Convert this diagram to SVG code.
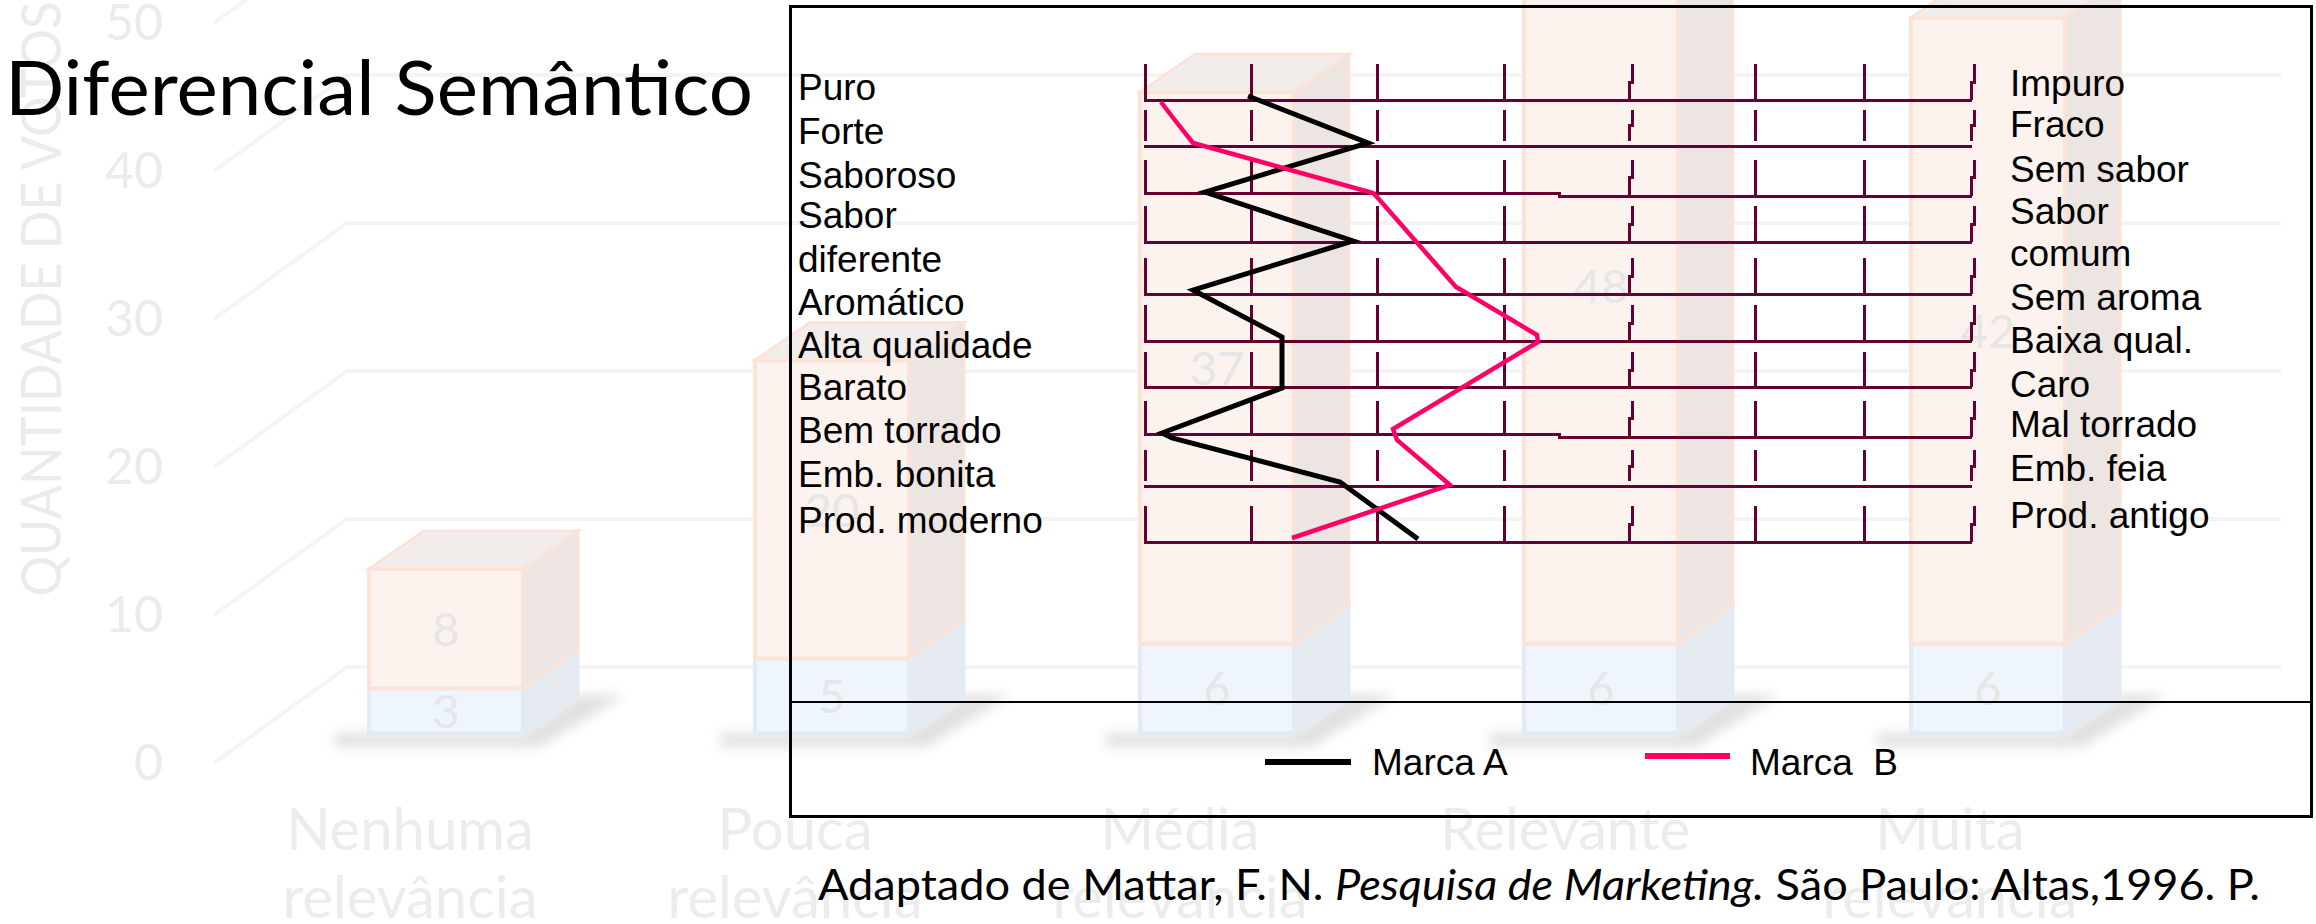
<svg xmlns="http://www.w3.org/2000/svg" width="2316" height="924" viewBox="0 0 2316 924">
<defs>
<style>
.bgtxt{font-family:Lato,"Open Sans",sans-serif;fill:#ebebeb}
.grid{stroke:#f4f4f4;stroke-width:4;fill:none}
.of{fill:#fdf3ee;stroke:#fbe4d7;stroke-width:4}
.ot{fill:#f2edea;stroke:#fbe4d7;stroke-width:3}
.or{fill:#ece5e2;stroke:#fbe4d7;stroke-width:3}
.bf{fill:#eff5fc;stroke:#e2eaf5;stroke-width:4}
.br{fill:#e6ebf2;stroke:#e2eaf5;stroke-width:3}
.shadow{fill:#c8c8c8;opacity:0.55;filter:url(#blur)}
.num{font-family:Lato,"Open Sans",sans-serif;font-size:47px;fill:#e6e6e6;text-anchor:middle}
.cat{font-family:Lato,"Open Sans",sans-serif;font-size:58px;fill:#ececec;text-anchor:middle}
.lbl{font-family:"Liberation Sans",Arial,sans-serif;font-size:37px;fill:#000}
.row{stroke:#660033;stroke-width:3;fill:none;shape-rendering:crispEdges}
.brandA{stroke:#000;stroke-width:5;fill:none;stroke-linejoin:miter}
.brandB{stroke:#ff0066;stroke-width:4.5;fill:none;stroke-linejoin:miter}
</style>
<filter id="blur" x="-30%" y="-80%" width="160%" height="260%"><feGaussianBlur stdDeviation="6"/></filter>
</defs>
<rect width="2316" height="924" fill="#ffffff"/>

<!-- faded background 3D chart -->
<g id="background-chart">
  <g id="bg-grid">
    <path class="grid" d="M214 763 L347 667 H2281"/>
    <path class="grid" d="M214 615 L347 519 H2281"/>
    <path class="grid" d="M214 467 L347 371 H2281"/>
    <path class="grid" d="M214 319 L347 223 H2281"/>
    <path class="grid" d="M214 171 L347 75 H2281"/>
    <path class="grid" d="M214 23 L347 -73 H2281"/>
  </g>
  <g id="bg-axis">
    <text class="bgtxt" font-size="50" text-anchor="end" x="163" y="40">50</text>
    <text class="bgtxt" font-size="50" text-anchor="end" x="163" y="188">40</text>
    <text class="bgtxt" font-size="50" text-anchor="end" x="163" y="336">30</text>
    <text class="bgtxt" font-size="50" text-anchor="end" x="163" y="484">20</text>
    <text class="bgtxt" font-size="50" text-anchor="end" x="163" y="632">10</text>
    <text class="bgtxt" font-size="50" text-anchor="end" x="163" y="780">0</text>
    <text class="bgtxt" font-size="57" text-anchor="middle" textLength="595" lengthAdjust="spacingAndGlyphs" transform="translate(61 299) rotate(-90)">QUANTIDADE DE VOTOS</text>
  </g>
  <g id="bar-nenhuma">
    <path class="shadow" d="M335 733 H523 L578 695 H625 L540 747 H335 Z"/>
    <rect class="bf" x="369" y="688.3" width="154" height="44.7"/>
    <polygon class="br" points="523,733 578,695 578,650.3 523,688.3"/>
    <rect class="of" x="369" y="569.1" width="154" height="119.2"/>
    <polygon class="or" points="523,688.3 578,650.3 578,531.1 523,569.1"/>
    <polygon class="ot" points="369,569.1 424,531.1 578,531.1 523,569.1"/>
    <text class="num" x="446" y="646">8</text>
    <text class="num" x="446" y="728">3</text>
  </g>
  <g id="bar-pouca">
    <path class="shadow" d="M721 733 H909 L964 695 H1011 L926 747 H721 Z"/>
    <rect class="bf" x="755" y="658.5" width="154" height="74.5"/>
    <polygon class="br" points="909,733 964,695 964,620.5 909,658.5"/>
    <rect class="of" x="755" y="360.5" width="154" height="298"/>
    <polygon class="or" points="909,658.5 964,620.5 964,322.5 909,360.5"/>
    <polygon class="ot" points="755,360.5 810,322.5 964,322.5 909,360.5"/>
    <text class="num" x="832" y="527">20</text>
    <text class="num" x="832" y="713">5</text>
  </g>
  <g id="bar-media">
    <path class="shadow" d="M1106 733 H1294 L1349 695 H1396 L1311 747 H1106 Z"/>
    <rect class="bf" x="1140" y="643.6" width="154" height="89.4"/>
    <polygon class="br" points="1294,733 1349,695 1349,605.6 1294,643.6"/>
    <rect class="of" x="1140" y="92.3" width="154" height="551.3"/>
    <polygon class="or" points="1294,643.6 1349,605.6 1349,54.3 1294,92.3"/>
    <polygon class="ot" points="1140,92.3 1195,54.3 1349,54.3 1294,92.3"/>
    <text class="num" x="1217" y="385">37</text>
    <text class="num" x="1217" y="705">6</text>
  </g>
  <g id="bar-relevante">
    <path class="shadow" d="M1490 733 H1678 L1733 695 H1780 L1695 747 H1490 Z"/>
    <rect class="bf" x="1524" y="643.6" width="154" height="89.4"/>
    <polygon class="br" points="1678,733 1733,695 1733,605.6 1678,643.6"/>
    <rect class="of" x="1524" y="-71.6" width="154" height="715.2"/>
    <polygon class="or" points="1678,643.6 1733,605.6 1733,-109.6 1678,-71.6"/>
    <text class="num" x="1601" y="303">48</text>
    <text class="num" x="1601" y="705">6</text>
  </g>
  <g id="bar-muita">
    <path class="shadow" d="M1877 733 H2065 L2120 695 H2167 L2082 747 H1877 Z"/>
    <rect class="bf" x="1911" y="643.6" width="154" height="89.4"/>
    <polygon class="br" points="2065,733 2120,695 2120,605.6 2065,643.6"/>
    <rect class="of" x="1911" y="17.8" width="154" height="625.8"/>
    <polygon class="or" points="2065,643.6 2120,605.6 2120,-20.2 2065,17.8"/>
    <polygon class="ot" points="1911,17.8 1966,-20.2 2120,-20.2 2065,17.8"/>
    <text class="num" x="1988" y="348">42</text>
    <text class="num" x="1988" y="705">6</text>
  </g>
  <g id="bg-categories">
    <text class="cat" x="410" y="850">Nenhuma</text>
    <text class="cat" x="410" y="918">relevância</text>
    <text class="cat" x="795" y="850">Pouca</text>
    <text class="cat" x="795" y="918">relevância</text>
    <text class="cat" x="1180" y="850">Média</text>
    <text class="cat" x="1180" y="918">relevância</text>
    <text class="cat" x="1565" y="850">Relevante</text>
    <text class="cat" x="1950" y="850">Muita</text>
    <text class="cat" x="1950" y="918">relevância</text>
  </g>
</g>

<!-- title -->
<g id="title">
  <text x="5" y="115" font-family="Lato, 'Open Sans', sans-serif" font-size="75" fill="#000" textLength="748" lengthAdjust="spacingAndGlyphs">Diferencial Semântico</text>
</g>

<!-- semantic differential chart -->
<g id="semantic-chart">
  <rect id="chart-frame" x="790.5" y="6.5" width="1521" height="810" fill="none" stroke="#000" stroke-width="3"/>
  <line id="legend-separator" x1="790" y1="702" x2="2312" y2="702" stroke="#000" stroke-width="2"/>

  <g id="scale-grid" class="row">
    <path d="M1144 100H1972M1145 64V100M1251 64V100M1377 64V100M1504 64V100M1632 64V82H1629V100M1755 64V100M1864 64V100M1974 64V82H1971V100"/>
    <path d="M1144 146H1972M1145 110V141M1251 110V141M1377 110V141M1504 110V141M1632 110V125H1629V141M1755 110V141M1864 110V141M1974 110V125H1971V141"/>
    <path d="M1144 193H1559V196H1972M1145 160V193M1251 160V193M1377 160V193M1504 160V193M1632 160V177H1629V196M1755 160V196M1864 160V196M1974 160V177H1971V196"/>
    <path d="M1144 242H1972M1145 206V242M1251 206V242M1377 206V242M1504 206V242M1632 206V224H1629V242M1755 206V242M1864 206V242M1974 206V224H1971V242"/>
    <path d="M1144 294H1972M1145 258V294M1251 258V294M1377 258V294M1504 258V294M1632 258V276H1629V294M1755 258V294M1864 258V294M1974 258V276H1971V294"/>
    <path d="M1144 341H1972M1145 305V341M1251 305V341M1377 305V341M1504 305V341M1632 305V323H1629V341M1755 305V341M1864 305V341M1974 305V323H1971V341"/>
    <path d="M1144 387H1972M1145 352V387M1251 352V387M1377 352V387M1504 352V387M1632 352V370H1629V387M1755 352V387M1864 352V387M1974 352V370H1971V387"/>
    <path d="M1144 434H1559V437H1972M1145 401V434M1251 401V434M1377 401V434M1504 401V434M1632 401V418H1629V437M1755 401V437M1864 401V437M1974 401V418H1971V437"/>
    <path d="M1144 486H1972M1145 450V481M1251 450V481M1377 450V481M1504 450V481M1632 450V466H1629V481M1755 450V481M1864 450V481M1974 450V466H1971V481"/>
    <path d="M1144 542H1972M1145 506V542M1251 506V542M1377 506V542M1504 506V542M1632 506V524H1629V542M1755 506V542M1864 506V542M1974 506V524H1971V542"/>
  </g>

  <g id="connectors">
    <polyline id="line-marca-a" class="brandA" points="1248,96 1368,143 1205,192 1353,241 1193,290 1282,337 1282,388 1162,433 1172,438 1340,482 1418,539"/>
    <polyline id="line-marca-b" class="brandB" points="1161,102 1174,119 1193,143 1373,193 1377,197 1456,287 1463,291 1537,335 1538,342 1393,429 1397,440 1450,485 1292,538"/>
  </g>

  <g id="left-labels" class="lbl">
    <text x="798" y="100">Puro</text>
    <text x="798" y="144">Forte</text>
    <text x="798" y="188">Saboroso</text>
    <text x="798" y="228">Sabor</text>
    <text x="798" y="272">diferente</text>
    <text x="798" y="315">Aromático</text>
    <text x="798" y="358">Alta qualidade</text>
    <text x="798" y="400">Barato</text>
    <text x="798" y="443">Bem torrado</text>
    <text x="798" y="487">Emb. bonita</text>
    <text x="798" y="533">Prod. moderno</text>
  </g>
  <g id="right-labels" class="lbl">
    <text x="2010" y="96">Impuro</text>
    <text x="2010" y="137">Fraco</text>
    <text x="2010" y="182">Sem sabor</text>
    <text x="2010" y="224">Sabor</text>
    <text x="2010" y="266">comum</text>
    <text x="2010" y="310">Sem aroma</text>
    <text x="2010" y="353">Baixa qual.</text>
    <text x="2010" y="397">Caro</text>
    <text x="2010" y="437">Mal torrado</text>
    <text x="2010" y="481">Emb. feia</text>
    <text x="2010" y="528">Prod. antigo</text>
  </g>

  <g id="legend-a">
    <line x1="1265" y1="762" x2="1351" y2="762" stroke="#000" stroke-width="6"/>
    <text class="lbl" x="1372" y="775">Marca A</text>
  </g>
  <g id="legend-b">
    <line x1="1645" y1="756" x2="1730" y2="756" stroke="#ff0066" stroke-width="6"/>
    <text class="lbl" x="1750" y="775" xml:space="preserve">Marca  B</text>
  </g>
</g>

<!-- source caption -->
<g id="caption">
  <text x="818" y="900" font-family="Lato, 'Open Sans', sans-serif" font-size="43" fill="#000" textLength="1442" lengthAdjust="spacingAndGlyphs">Adaptado de Mattar, F. N. <tspan font-style="italic">Pesquisa de Marketing.</tspan> São Paulo: Altas,1996. P.</text>
</g>
</svg>
